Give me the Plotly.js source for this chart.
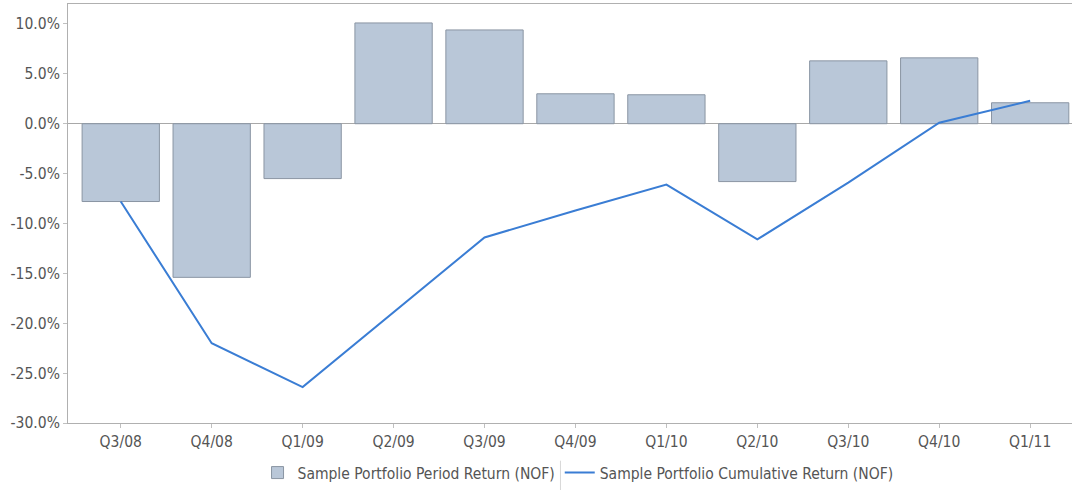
<!DOCTYPE html>
<html><head><meta charset="utf-8">
<script src="https://cdn.plot.ly/plotly-3.0.1.min.js"></script>
<style>html,body{margin:0;padding:0;background:#fff}#chart{width:1072px;height:490px}</style>
</head><body><div id="chart"></div>
<script>
const categories = ["Q3/08","Q4/08","Q1/09","Q2/09","Q3/09","Q4/09","Q1/10","Q2/10","Q3/10","Q4/10","Q1/11"];
const periodReturn = [-7.8,-15.4,-5.5,10.1,9.4,3.0,2.9,-5.8,6.3,6.6,2.1];
const cumulativeReturn = [-7.8,-22.0,-26.4,-18.9,-11.4,-8.7,-6.1,-11.6,-5.9,0.1,2.3];
const yTicks = [-30,-25,-20,-15,-10,-5,0,5,10];
const yTickLabels = yTicks.map(v => v.toFixed(1) + "%");

const font = {family: "DejaVu Sans Condensed, DejaVu Sans, sans-serif", size: 15.5, color: "#555555"};
const data = [
  {type: "bar", x: categories, y: periodReturn, name: "Sample Portfolio Period Return (NOF)",
   width: 0.85, marker: {color: "#b9c7d8", line: {color: "#8a95a3", width: 1}}},
  {type: "scatter", mode: "lines", x: categories, y: cumulativeReturn, name: "Sample Portfolio Cumulative Return (NOF)",
   line: {color: "#3a7dd4", width: 2}}
];
const layout = {
  width: 1072, height: 490,
  margin: {l: 68, r: 0, t: 4, b: 66},
  paper_bgcolor: "#fff", plot_bgcolor: "#fff",
  font: font,
  showlegend: true,
  legend: {orientation: "h", x: 0.508, xanchor: "center", y: -0.08, yanchor: "top", font: font,
           traceorder: "normal", itemwidth: 30, bgcolor: "rgba(0,0,0,0)"},
  xaxis: {type: "category", range: [-0.58, 10.46], showline: true, linecolor: "#b0b0b0", mirror: true,
          ticks: "outside", ticklen: 4, tickcolor: "#c0c0c0", showgrid: false, tickfont: font, zeroline: false},
  yaxis: {range: [-30, 12], tickvals: yTicks, ticktext: yTickLabels, showline: true, linecolor: "#b0b0b0",
          ticks: "outside", ticklen: 4, tickcolor: "#c0c0c0", showgrid: false, zeroline: true, zerolinecolor: "#a8a8a8",
          zerolinewidth: 1, tickfont: font},
  shapes: [{type: "line", xref: "paper", yref: "paper", x0: 0.4905, x1: 0.4905, y0: -0.09, y1: -0.19,
            line: {color: "#d8d8d8", width: 1}, layer: "above"}]
};
Plotly.newPlot("chart", data, layout, {displayModeBar: false, staticPlot: true});
</script></body></html>
